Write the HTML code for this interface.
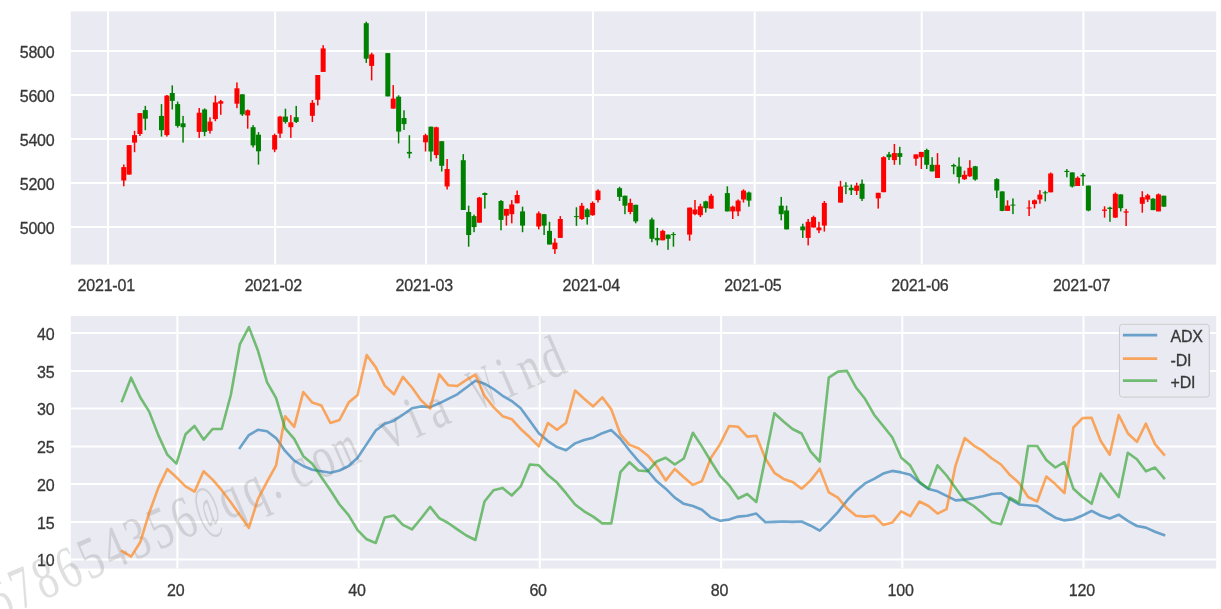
<!DOCTYPE html><html><head><meta charset="utf-8"><style>html,body{margin:0;padding:0;background:#fff;}svg{display:block;}text{font-family:"Liberation Sans",sans-serif;}text.t{stroke:#383838;stroke-width:0.3px;letter-spacing:-0.2px;}svg{will-change:transform;}text.wm{font-family:"Liberation Serif",serif;}</style></head><body>
<svg width="1221" height="609" viewBox="0 0 1221 609">
<rect x="0" y="0" width="1221" height="609" fill="#fff"/>
<rect x="70.8" y="11.4" width="1145.4" height="253.2" fill="#eaeaf2"/>
<path d="M70.8 227.1H1216.2M70.8 183.1H1216.2M70.8 139.1H1216.2M70.8 95.1H1216.2M70.8 51.1H1216.2M108.0 11.4V264.6M275.1 11.4V264.6M426.0 11.4V264.6M593.0 11.4V264.6M754.7 11.4V264.6M921.7 11.4V264.6M1083.4 11.4V264.6" stroke="#fff" stroke-width="2.0" fill="none"/>
<text x="54.5" y="233.9" font-size="16" fill="#383838" text-anchor="end" class="t">5000</text>
<text x="54.5" y="189.9" font-size="16" fill="#383838" text-anchor="end" class="t">5200</text>
<text x="54.5" y="145.9" font-size="16" fill="#383838" text-anchor="end" class="t">5400</text>
<text x="54.5" y="101.9" font-size="16" fill="#383838" text-anchor="end" class="t">5600</text>
<text x="54.5" y="57.9" font-size="16" fill="#383838" text-anchor="end" class="t">5800</text>
<text x="106.2" y="291" font-size="16" fill="#383838" text-anchor="middle" class="t">2021-01</text>
<text x="273.3" y="291" font-size="16" fill="#383838" text-anchor="middle" class="t">2021-02</text>
<text x="424.2" y="291" font-size="16" fill="#383838" text-anchor="middle" class="t">2021-03</text>
<text x="591.2" y="291" font-size="16" fill="#383838" text-anchor="middle" class="t">2021-04</text>
<text x="752.9" y="291" font-size="16" fill="#383838" text-anchor="middle" class="t">2021-05</text>
<text x="919.9" y="291" font-size="16" fill="#383838" text-anchor="middle" class="t">2021-06</text>
<text x="1081.6" y="291" font-size="16" fill="#383838" text-anchor="middle" class="t">2021-07</text>
<rect x="123.02" y="164.5" width="1.5" height="21.8" fill="#ff0000"/>
<rect x="121.27" y="167.1" width="5.0" height="13.4" fill="#ff0000"/>
<rect x="128.41" y="145.1" width="1.5" height="29.5" fill="#ff0000"/>
<rect x="126.66" y="145.1" width="5.0" height="29.5" fill="#ff0000"/>
<rect x="133.79" y="130.8" width="1.5" height="21.4" fill="#ff0000"/>
<rect x="132.04" y="135.1" width="5.0" height="7.5" fill="#ff0000"/>
<rect x="139.18" y="113.0" width="1.5" height="23.0" fill="#ff0000"/>
<rect x="137.43" y="113.1" width="5.0" height="20.9" fill="#ff0000"/>
<rect x="144.57" y="105.9" width="1.5" height="24.3" fill="#008000"/>
<rect x="142.82" y="110.1" width="5.0" height="8.6" fill="#008000"/>
<rect x="160.74" y="104.1" width="1.5" height="32.5" fill="#008000"/>
<rect x="158.99" y="115.9" width="5.0" height="14.3" fill="#008000"/>
<rect x="166.13" y="95.0" width="1.5" height="41.6" fill="#ff0000"/>
<rect x="164.38" y="95.6" width="5.0" height="39.5" fill="#ff0000"/>
<rect x="171.52" y="85.4" width="1.5" height="24.1" fill="#008000"/>
<rect x="169.77" y="93.0" width="5.0" height="7.9" fill="#008000"/>
<rect x="176.91" y="101.6" width="1.5" height="26.0" fill="#008000"/>
<rect x="175.16" y="104.1" width="5.0" height="21.8" fill="#008000"/>
<rect x="182.30" y="115.9" width="1.5" height="26.7" fill="#008000"/>
<rect x="180.55" y="123.3" width="5.0" height="3.9" fill="#008000"/>
<rect x="198.46" y="108.0" width="1.5" height="29.9" fill="#ff0000"/>
<rect x="196.71" y="112.7" width="5.0" height="19.2" fill="#ff0000"/>
<rect x="203.85" y="108.4" width="1.5" height="27.8" fill="#008000"/>
<rect x="202.10" y="109.5" width="5.0" height="22.4" fill="#008000"/>
<rect x="209.24" y="117.4" width="1.5" height="16.2" fill="#ff0000"/>
<rect x="207.49" y="121.6" width="5.0" height="9.2" fill="#ff0000"/>
<rect x="214.63" y="95.6" width="1.5" height="25.6" fill="#ff0000"/>
<rect x="212.88" y="102.4" width="5.0" height="16.7" fill="#ff0000"/>
<rect x="220.02" y="99.9" width="1.5" height="14.9" fill="#ff0000"/>
<rect x="218.27" y="101.2" width="5.0" height="2.5" fill="#ff0000"/>
<rect x="236.19" y="82.4" width="1.5" height="25.8" fill="#ff0000"/>
<rect x="234.44" y="88.3" width="5.0" height="15.4" fill="#ff0000"/>
<rect x="241.57" y="94.3" width="1.5" height="21.6" fill="#008000"/>
<rect x="239.82" y="94.3" width="5.0" height="20.1" fill="#008000"/>
<rect x="246.96" y="109.5" width="1.5" height="19.2" fill="#ff0000"/>
<rect x="245.21" y="110.3" width="5.0" height="5.2" fill="#ff0000"/>
<rect x="252.35" y="125.1" width="1.5" height="22.4" fill="#008000"/>
<rect x="250.60" y="127.2" width="5.0" height="18.2" fill="#008000"/>
<rect x="257.74" y="132.1" width="1.5" height="32.5" fill="#008000"/>
<rect x="255.99" y="134.7" width="5.0" height="16.6" fill="#008000"/>
<rect x="273.91" y="133.6" width="1.5" height="18.6" fill="#ff0000"/>
<rect x="272.16" y="135.1" width="5.0" height="14.5" fill="#ff0000"/>
<rect x="279.30" y="115.9" width="1.5" height="22.0" fill="#ff0000"/>
<rect x="277.55" y="116.6" width="5.0" height="17.0" fill="#ff0000"/>
<rect x="284.69" y="108.7" width="1.5" height="14.9" fill="#008000"/>
<rect x="282.94" y="116.6" width="5.0" height="5.3" fill="#008000"/>
<rect x="290.08" y="115.1" width="1.5" height="22.8" fill="#ff0000"/>
<rect x="288.33" y="122.3" width="5.0" height="4.9" fill="#ff0000"/>
<rect x="295.47" y="105.9" width="1.5" height="17.1" fill="#008000"/>
<rect x="293.72" y="117.2" width="5.0" height="4.7" fill="#008000"/>
<rect x="311.63" y="100.1" width="1.5" height="21.9" fill="#ff0000"/>
<rect x="309.88" y="102.8" width="5.0" height="13.0" fill="#ff0000"/>
<rect x="317.02" y="75.0" width="1.5" height="30.4" fill="#ff0000"/>
<rect x="315.27" y="75.0" width="5.0" height="24.8" fill="#ff0000"/>
<rect x="322.41" y="45.2" width="1.5" height="26.7" fill="#ff0000"/>
<rect x="320.66" y="48.4" width="5.0" height="23.5" fill="#ff0000"/>
<rect x="365.52" y="21.7" width="1.5" height="41.2" fill="#008000"/>
<rect x="363.77" y="23.2" width="5.0" height="35.5" fill="#008000"/>
<rect x="370.91" y="52.7" width="1.5" height="27.7" fill="#ff0000"/>
<rect x="369.16" y="54.4" width="5.0" height="11.5" fill="#ff0000"/>
<rect x="387.08" y="53.1" width="1.5" height="43.3" fill="#008000"/>
<rect x="385.33" y="53.1" width="5.0" height="43.3" fill="#008000"/>
<rect x="392.47" y="85.1" width="1.5" height="23.5" fill="#ff0000"/>
<rect x="390.72" y="98.6" width="5.0" height="10.0" fill="#ff0000"/>
<rect x="397.86" y="95.3" width="1.5" height="48.1" fill="#008000"/>
<rect x="396.11" y="96.7" width="5.0" height="34.9" fill="#008000"/>
<rect x="403.25" y="110.3" width="1.5" height="19.7" fill="#008000"/>
<rect x="401.50" y="118.0" width="5.0" height="6.1" fill="#008000"/>
<rect x="408.63" y="135.2" width="1.5" height="23.1" fill="#008000"/>
<rect x="406.88" y="151.9" width="5.0" height="1.7" fill="#008000"/>
<rect x="424.80" y="133.7" width="1.5" height="17.8" fill="#ff0000"/>
<rect x="423.05" y="135.2" width="5.0" height="7.1" fill="#ff0000"/>
<rect x="430.19" y="126.7" width="1.5" height="34.8" fill="#008000"/>
<rect x="428.44" y="126.7" width="5.0" height="24.8" fill="#008000"/>
<rect x="435.58" y="126.7" width="1.5" height="31.6" fill="#ff0000"/>
<rect x="433.83" y="127.3" width="5.0" height="27.8" fill="#ff0000"/>
<rect x="440.97" y="141.2" width="1.5" height="30.3" fill="#008000"/>
<rect x="439.22" y="141.2" width="5.0" height="24.6" fill="#008000"/>
<rect x="446.36" y="159.0" width="1.5" height="30.5" fill="#ff0000"/>
<rect x="444.61" y="169.0" width="5.0" height="17.5" fill="#ff0000"/>
<rect x="462.52" y="154.1" width="1.5" height="55.9" fill="#008000"/>
<rect x="460.77" y="160.2" width="5.0" height="49.8" fill="#008000"/>
<rect x="467.91" y="205.7" width="1.5" height="41.0" fill="#008000"/>
<rect x="466.16" y="212.0" width="5.0" height="23.0" fill="#008000"/>
<rect x="473.30" y="214.6" width="1.5" height="17.6" fill="#008000"/>
<rect x="471.55" y="216.1" width="5.0" height="11.0" fill="#008000"/>
<rect x="478.69" y="196.9" width="1.5" height="25.8" fill="#ff0000"/>
<rect x="476.94" y="197.6" width="5.0" height="25.1" fill="#ff0000"/>
<rect x="484.08" y="192.5" width="1.5" height="16.1" fill="#008000"/>
<rect x="482.33" y="193.1" width="5.0" height="1.9" fill="#008000"/>
<rect x="500.25" y="200.1" width="1.5" height="30.2" fill="#008000"/>
<rect x="498.50" y="201.0" width="5.0" height="18.9" fill="#008000"/>
<rect x="505.64" y="208.9" width="1.5" height="16.7" fill="#ff0000"/>
<rect x="503.89" y="208.9" width="5.0" height="6.8" fill="#ff0000"/>
<rect x="511.02" y="200.1" width="1.5" height="23.2" fill="#ff0000"/>
<rect x="509.27" y="204.4" width="5.0" height="9.8" fill="#ff0000"/>
<rect x="516.41" y="190.6" width="1.5" height="12.7" fill="#ff0000"/>
<rect x="514.66" y="195.0" width="5.0" height="8.3" fill="#ff0000"/>
<rect x="521.80" y="206.7" width="1.5" height="25.5" fill="#008000"/>
<rect x="520.05" y="211.4" width="5.0" height="14.2" fill="#008000"/>
<rect x="537.97" y="211.4" width="1.5" height="18.0" fill="#ff0000"/>
<rect x="536.22" y="213.3" width="5.0" height="13.2" fill="#ff0000"/>
<rect x="543.36" y="213.9" width="1.5" height="21.1" fill="#008000"/>
<rect x="541.61" y="214.2" width="5.0" height="11.4" fill="#008000"/>
<rect x="548.75" y="221.8" width="1.5" height="22.7" fill="#008000"/>
<rect x="547.00" y="230.9" width="5.0" height="13.6" fill="#008000"/>
<rect x="554.14" y="238.4" width="1.5" height="15.5" fill="#ff0000"/>
<rect x="552.39" y="242.6" width="5.0" height="6.6" fill="#ff0000"/>
<rect x="559.53" y="216.1" width="1.5" height="21.8" fill="#ff0000"/>
<rect x="557.78" y="219.0" width="5.0" height="18.9" fill="#ff0000"/>
<rect x="575.69" y="207.3" width="1.5" height="18.5" fill="#008000"/>
<rect x="573.94" y="216.1" width="5.0" height="1.0" fill="#008000"/>
<rect x="581.08" y="202.9" width="1.5" height="17.0" fill="#ff0000"/>
<rect x="579.33" y="205.7" width="5.0" height="13.3" fill="#ff0000"/>
<rect x="586.47" y="208.2" width="1.5" height="16.4" fill="#008000"/>
<rect x="584.72" y="209.5" width="5.0" height="7.6" fill="#008000"/>
<rect x="591.86" y="201.4" width="1.5" height="14.3" fill="#ff0000"/>
<rect x="590.11" y="202.9" width="5.0" height="12.3" fill="#ff0000"/>
<rect x="597.25" y="189.3" width="1.5" height="13.2" fill="#ff0000"/>
<rect x="595.50" y="190.6" width="5.0" height="9.5" fill="#ff0000"/>
<rect x="618.81" y="186.8" width="1.5" height="14.2" fill="#008000"/>
<rect x="617.06" y="188.2" width="5.0" height="8.7" fill="#008000"/>
<rect x="624.19" y="195.7" width="1.5" height="18.5" fill="#008000"/>
<rect x="622.44" y="195.7" width="5.0" height="10.0" fill="#008000"/>
<rect x="629.58" y="198.7" width="1.5" height="15.5" fill="#ff0000"/>
<rect x="627.83" y="202.9" width="5.0" height="9.1" fill="#ff0000"/>
<rect x="634.97" y="204.8" width="1.5" height="18.5" fill="#008000"/>
<rect x="633.22" y="204.8" width="5.0" height="16.6" fill="#008000"/>
<rect x="651.14" y="217.6" width="1.5" height="24.6" fill="#008000"/>
<rect x="649.39" y="219.5" width="5.0" height="19.3" fill="#008000"/>
<rect x="656.53" y="227.8" width="1.5" height="17.6" fill="#008000"/>
<rect x="654.78" y="237.9" width="5.0" height="2.4" fill="#008000"/>
<rect x="661.92" y="229.7" width="1.5" height="10.6" fill="#ff0000"/>
<rect x="660.17" y="230.9" width="5.0" height="9.4" fill="#ff0000"/>
<rect x="667.31" y="234.6" width="1.5" height="15.2" fill="#008000"/>
<rect x="665.56" y="234.6" width="5.0" height="4.2" fill="#008000"/>
<rect x="672.70" y="232.2" width="1.5" height="14.5" fill="#008000"/>
<rect x="670.95" y="234.1" width="5.0" height="1.0" fill="#008000"/>
<rect x="688.86" y="207.6" width="1.5" height="33.1" fill="#ff0000"/>
<rect x="687.11" y="207.6" width="5.0" height="27.0" fill="#ff0000"/>
<rect x="694.25" y="200.0" width="1.5" height="15.2" fill="#ff0000"/>
<rect x="692.50" y="209.5" width="5.0" height="4.7" fill="#ff0000"/>
<rect x="699.64" y="203.8" width="1.5" height="13.3" fill="#ff0000"/>
<rect x="697.89" y="206.3" width="5.0" height="8.9" fill="#ff0000"/>
<rect x="705.03" y="200.8" width="1.5" height="11.7" fill="#008000"/>
<rect x="703.28" y="201.4" width="5.0" height="6.8" fill="#008000"/>
<rect x="710.42" y="193.8" width="1.5" height="14.8" fill="#ff0000"/>
<rect x="708.67" y="195.7" width="5.0" height="12.9" fill="#ff0000"/>
<rect x="726.59" y="186.3" width="1.5" height="25.1" fill="#008000"/>
<rect x="724.84" y="193.1" width="5.0" height="18.3" fill="#008000"/>
<rect x="731.97" y="205.7" width="1.5" height="13.3" fill="#ff0000"/>
<rect x="730.22" y="206.7" width="5.0" height="4.7" fill="#ff0000"/>
<rect x="737.36" y="199.5" width="1.5" height="16.6" fill="#ff0000"/>
<rect x="735.61" y="200.6" width="5.0" height="10.8" fill="#ff0000"/>
<rect x="742.75" y="189.3" width="1.5" height="13.2" fill="#ff0000"/>
<rect x="741.00" y="190.6" width="5.0" height="8.9" fill="#ff0000"/>
<rect x="748.14" y="191.6" width="1.5" height="15.1" fill="#008000"/>
<rect x="746.39" y="192.5" width="5.0" height="8.1" fill="#008000"/>
<rect x="780.48" y="196.9" width="1.5" height="23.4" fill="#008000"/>
<rect x="778.73" y="205.7" width="5.0" height="8.5" fill="#008000"/>
<rect x="785.86" y="205.7" width="1.5" height="23.7" fill="#008000"/>
<rect x="784.11" y="210.5" width="5.0" height="18.9" fill="#008000"/>
<rect x="802.03" y="223.7" width="1.5" height="14.2" fill="#008000"/>
<rect x="800.28" y="226.5" width="5.0" height="3.8" fill="#008000"/>
<rect x="807.42" y="219.0" width="1.5" height="26.4" fill="#ff0000"/>
<rect x="805.67" y="221.8" width="5.0" height="16.1" fill="#ff0000"/>
<rect x="812.81" y="215.7" width="1.5" height="11.8" fill="#ff0000"/>
<rect x="811.06" y="217.1" width="5.0" height="10.4" fill="#ff0000"/>
<rect x="818.20" y="221.8" width="1.5" height="11.3" fill="#ff0000"/>
<rect x="816.45" y="227.5" width="5.0" height="2.8" fill="#ff0000"/>
<rect x="823.59" y="201.0" width="1.5" height="30.6" fill="#ff0000"/>
<rect x="821.84" y="202.9" width="5.0" height="22.7" fill="#ff0000"/>
<rect x="839.75" y="180.8" width="1.5" height="21.8" fill="#ff0000"/>
<rect x="838.00" y="186.5" width="5.0" height="16.1" fill="#ff0000"/>
<rect x="845.14" y="182.2" width="1.5" height="11.9" fill="#008000"/>
<rect x="843.39" y="185.6" width="5.0" height="1.0" fill="#008000"/>
<rect x="850.53" y="184.6" width="1.5" height="10.4" fill="#008000"/>
<rect x="848.78" y="187.8" width="5.0" height="2.5" fill="#008000"/>
<rect x="855.92" y="182.7" width="1.5" height="12.3" fill="#ff0000"/>
<rect x="854.17" y="185.6" width="5.0" height="5.3" fill="#ff0000"/>
<rect x="861.31" y="179.5" width="1.5" height="21.5" fill="#008000"/>
<rect x="859.56" y="183.7" width="5.0" height="15.1" fill="#008000"/>
<rect x="877.48" y="192.8" width="1.5" height="15.8" fill="#ff0000"/>
<rect x="875.73" y="192.8" width="5.0" height="5.6" fill="#ff0000"/>
<rect x="882.87" y="156.3" width="1.5" height="35.9" fill="#ff0000"/>
<rect x="881.12" y="157.2" width="5.0" height="35.0" fill="#ff0000"/>
<rect x="888.26" y="151.9" width="1.5" height="8.1" fill="#008000"/>
<rect x="886.51" y="154.4" width="5.0" height="2.8" fill="#008000"/>
<rect x="893.64" y="144.0" width="1.5" height="20.8" fill="#ff0000"/>
<rect x="891.89" y="153.1" width="5.0" height="7.0" fill="#ff0000"/>
<rect x="899.03" y="146.8" width="1.5" height="18.0" fill="#008000"/>
<rect x="897.28" y="153.1" width="5.0" height="3.8" fill="#008000"/>
<rect x="915.20" y="154.4" width="1.5" height="11.3" fill="#ff0000"/>
<rect x="913.45" y="154.4" width="5.0" height="4.3" fill="#ff0000"/>
<rect x="920.59" y="151.9" width="1.5" height="17.1" fill="#ff0000"/>
<rect x="918.84" y="151.9" width="5.0" height="5.3" fill="#ff0000"/>
<rect x="925.98" y="148.7" width="1.5" height="20.3" fill="#008000"/>
<rect x="924.23" y="150.0" width="5.0" height="14.8" fill="#008000"/>
<rect x="931.37" y="157.2" width="1.5" height="14.2" fill="#008000"/>
<rect x="929.62" y="164.8" width="5.0" height="6.6" fill="#008000"/>
<rect x="936.76" y="153.1" width="1.5" height="24.9" fill="#ff0000"/>
<rect x="935.01" y="164.8" width="5.0" height="13.2" fill="#ff0000"/>
<rect x="952.92" y="163.7" width="1.5" height="10.6" fill="#008000"/>
<rect x="951.17" y="165.0" width="5.0" height="1.5" fill="#008000"/>
<rect x="958.31" y="157.3" width="1.5" height="26.2" fill="#008000"/>
<rect x="956.56" y="166.5" width="5.0" height="10.6" fill="#008000"/>
<rect x="963.70" y="170.7" width="1.5" height="9.3" fill="#ff0000"/>
<rect x="961.95" y="174.8" width="5.0" height="4.4" fill="#ff0000"/>
<rect x="969.09" y="160.2" width="1.5" height="16.7" fill="#ff0000"/>
<rect x="967.34" y="167.8" width="5.0" height="8.5" fill="#ff0000"/>
<rect x="974.48" y="165.9" width="1.5" height="14.7" fill="#008000"/>
<rect x="972.73" y="166.3" width="5.0" height="13.2" fill="#008000"/>
<rect x="996.04" y="178.2" width="1.5" height="19.8" fill="#008000"/>
<rect x="994.29" y="179.1" width="5.0" height="11.4" fill="#008000"/>
<rect x="1001.42" y="191.4" width="1.5" height="19.8" fill="#008000"/>
<rect x="999.67" y="191.4" width="5.0" height="19.5" fill="#008000"/>
<rect x="1006.81" y="200.3" width="1.5" height="10.6" fill="#ff0000"/>
<rect x="1005.06" y="205.6" width="5.0" height="5.3" fill="#ff0000"/>
<rect x="1012.20" y="198.4" width="1.5" height="15.7" fill="#008000"/>
<rect x="1010.45" y="204.6" width="5.0" height="1.0" fill="#008000"/>
<rect x="1028.37" y="200.3" width="1.5" height="15.7" fill="#ff0000"/>
<rect x="1026.62" y="207.5" width="5.0" height="1.0" fill="#ff0000"/>
<rect x="1033.76" y="199.5" width="1.5" height="8.9" fill="#ff0000"/>
<rect x="1032.01" y="200.3" width="5.0" height="3.8" fill="#ff0000"/>
<rect x="1039.15" y="190.1" width="1.5" height="13.6" fill="#ff0000"/>
<rect x="1037.40" y="194.6" width="5.0" height="4.9" fill="#ff0000"/>
<rect x="1044.54" y="190.8" width="1.5" height="10.6" fill="#008000"/>
<rect x="1042.79" y="192.3" width="5.0" height="1.0" fill="#008000"/>
<rect x="1049.92" y="172.5" width="1.5" height="19.8" fill="#ff0000"/>
<rect x="1048.17" y="173.5" width="5.0" height="18.8" fill="#ff0000"/>
<rect x="1066.09" y="169.1" width="1.5" height="8.2" fill="#008000"/>
<rect x="1064.34" y="170.9" width="5.0" height="1.1" fill="#008000"/>
<rect x="1071.48" y="172.4" width="1.5" height="15.1" fill="#008000"/>
<rect x="1069.73" y="172.4" width="5.0" height="14.1" fill="#008000"/>
<rect x="1076.87" y="176.4" width="1.5" height="9.6" fill="#ff0000"/>
<rect x="1075.12" y="177.8" width="5.0" height="8.2" fill="#ff0000"/>
<rect x="1082.26" y="172.9" width="1.5" height="12.9" fill="#008000"/>
<rect x="1080.51" y="174.8" width="5.0" height="1.6" fill="#008000"/>
<rect x="1087.65" y="185.6" width="1.5" height="25.7" fill="#008000"/>
<rect x="1085.90" y="185.6" width="5.0" height="24.9" fill="#008000"/>
<rect x="1103.82" y="206.3" width="1.5" height="11.3" fill="#ff0000"/>
<rect x="1102.07" y="209.5" width="5.0" height="1.3" fill="#ff0000"/>
<rect x="1109.20" y="206.7" width="1.5" height="15.1" fill="#008000"/>
<rect x="1107.45" y="207.6" width="5.0" height="1.4" fill="#008000"/>
<rect x="1114.59" y="192.5" width="1.5" height="25.5" fill="#ff0000"/>
<rect x="1112.84" y="193.8" width="5.0" height="23.8" fill="#ff0000"/>
<rect x="1119.98" y="194.4" width="1.5" height="17.0" fill="#008000"/>
<rect x="1118.23" y="194.4" width="5.0" height="13.8" fill="#008000"/>
<rect x="1125.37" y="208.9" width="1.5" height="17.1" fill="#ff0000"/>
<rect x="1123.62" y="211.4" width="5.0" height="1.3" fill="#ff0000"/>
<rect x="1141.54" y="191.2" width="1.5" height="21.5" fill="#ff0000"/>
<rect x="1139.79" y="197.2" width="5.0" height="6.6" fill="#ff0000"/>
<rect x="1146.93" y="193.8" width="1.5" height="8.2" fill="#ff0000"/>
<rect x="1145.18" y="195.3" width="5.0" height="4.2" fill="#ff0000"/>
<rect x="1152.32" y="198.2" width="1.5" height="11.9" fill="#008000"/>
<rect x="1150.57" y="198.7" width="5.0" height="11.4" fill="#008000"/>
<rect x="1157.70" y="193.5" width="1.5" height="17.9" fill="#ff0000"/>
<rect x="1155.95" y="194.4" width="5.0" height="17.0" fill="#ff0000"/>
<rect x="1163.09" y="195.7" width="1.5" height="11.0" fill="#008000"/>
<rect x="1161.34" y="195.7" width="5.0" height="11.0" fill="#008000"/>
<rect x="70.8" y="316.0" width="1145.4" height="252.6" fill="#eaeaf2"/>
<path d="M70.8 559.6H1216.2M70.8 521.9H1216.2M70.8 484.1H1216.2M70.8 446.4H1216.2M70.8 408.6H1216.2M70.8 370.9H1216.2M70.8 333.1H1216.2M177.4 316.0V568.6M358.6 316.0V568.6M539.8 316.0V568.6M721.1 316.0V568.6M902.3 316.0V568.6M1083.5 316.0V568.6" stroke="#fff" stroke-width="2.0" fill="none"/>
<text x="54.5" y="566.4" font-size="16" fill="#383838" text-anchor="end" class="t">10</text>
<text x="54.5" y="528.7" font-size="16" fill="#383838" text-anchor="end" class="t">15</text>
<text x="54.5" y="490.9" font-size="16" fill="#383838" text-anchor="end" class="t">20</text>
<text x="54.5" y="453.2" font-size="16" fill="#383838" text-anchor="end" class="t">25</text>
<text x="54.5" y="415.4" font-size="16" fill="#383838" text-anchor="end" class="t">30</text>
<text x="54.5" y="377.7" font-size="16" fill="#383838" text-anchor="end" class="t">35</text>
<text x="54.5" y="339.9" font-size="16" fill="#383838" text-anchor="end" class="t">40</text>
<text x="175.7" y="595.5" font-size="16" fill="#383838" text-anchor="middle" class="t">20</text>
<text x="356.9" y="595.5" font-size="16" fill="#383838" text-anchor="middle" class="t">40</text>
<text x="538.1" y="595.5" font-size="16" fill="#383838" text-anchor="middle" class="t">60</text>
<text x="719.4" y="595.5" font-size="16" fill="#383838" text-anchor="middle" class="t">80</text>
<text x="900.6" y="595.5" font-size="16" fill="#383838" text-anchor="middle" class="t">100</text>
<text x="1081.8" y="595.5" font-size="16" fill="#383838" text-anchor="middle" class="t">120</text>
<g transform="translate(7.0,616.0) rotate(-23.5)" fill="rgba(110,110,110,0.21)" font-size="50"><text transform="translate(0.0,0) scale(0.850,1.2)" x="0" y="0" text-anchor="middle" class="wm">6</text><text transform="translate(25.1,0) scale(0.850,1.2)" x="0" y="0" text-anchor="middle" class="wm">7</text><text transform="translate(50.2,0) scale(0.850,1.2)" x="0" y="0" text-anchor="middle" class="wm">8</text><text transform="translate(75.3,0) scale(0.850,1.2)" x="0" y="0" text-anchor="middle" class="wm">6</text><text transform="translate(100.4,0) scale(0.850,1.2)" x="0" y="0" text-anchor="middle" class="wm">5</text><text transform="translate(125.5,0) scale(0.850,1.2)" x="0" y="0" text-anchor="middle" class="wm">4</text><text transform="translate(150.6,0) scale(0.850,1.2)" x="0" y="0" text-anchor="middle" class="wm">3</text><text transform="translate(175.7,0) scale(0.850,1.2)" x="0" y="0" text-anchor="middle" class="wm">5</text><text transform="translate(200.8,0) scale(0.850,1.2)" x="0" y="0" text-anchor="middle" class="wm">6</text><text transform="translate(225.9,0) scale(0.508,1.2)" x="0" y="0" text-anchor="middle" class="wm">&#64;</text><text transform="translate(251.0,0) scale(0.850,1.2)" x="0" y="0" text-anchor="middle" class="wm">q</text><text transform="translate(276.1,0) scale(0.850,1.2)" x="0" y="0" text-anchor="middle" class="wm">q</text><text transform="translate(297.2,0) scale(0.850,1.2)" x="0" y="0" text-anchor="middle" class="wm">.</text><text transform="translate(326.3,0) scale(0.850,1.2)" x="0" y="0" text-anchor="middle" class="wm">c</text><text transform="translate(351.4,0) scale(0.850,1.2)" x="0" y="0" text-anchor="middle" class="wm">o</text><text transform="translate(376.5,0) scale(0.601,1.2)" x="0" y="0" text-anchor="middle" class="wm">m</text><text transform="translate(426.7,0) scale(0.850,1.2)" x="0" y="0" text-anchor="middle" class="wm">v</text><text transform="translate(451.8,0) scale(0.850,1.2)" x="0" y="0" text-anchor="middle" class="wm">i</text><text transform="translate(476.9,0) scale(0.850,1.2)" x="0" y="0" text-anchor="middle" class="wm">a</text><text transform="translate(527.1,0) scale(0.495,1.2)" x="0" y="0" text-anchor="middle" class="wm">W</text><text transform="translate(552.2,0) scale(0.850,1.2)" x="0" y="0" text-anchor="middle" class="wm">i</text><text transform="translate(577.3,0) scale(0.850,1.2)" x="0" y="0" text-anchor="middle" class="wm">n</text><text transform="translate(602.4,0) scale(0.850,1.2)" x="0" y="0" text-anchor="middle" class="wm">d</text></g>
<path d="M239.8 447.9 L248.9 435.1 L257.9 429.8 L267.0 431.3 L276.1 438.1 L285.1 450.9 L294.2 460.7 L303.3 466.0 L312.3 469.8 L321.4 471.3 L330.4 472.8 L339.5 470.5 L348.6 466.0 L357.6 457.7 L366.7 444.1 L375.7 430.5 L384.8 423.7 L393.9 420.7 L402.9 414.7 L412.0 408.3 L421.0 406.4 L430.1 407.1 L439.2 403.3 L448.2 398.8 L457.3 394.3 L466.4 387.5 L475.4 380.7 L484.5 383.7 L493.5 389.0 L502.6 395.8 L511.7 401.1 L520.7 408.3 L529.8 420.7 L538.8 433.2 L547.9 441.1 L557.0 447.1 L566.0 450.2 L575.1 443.4 L584.1 440.0 L593.2 437.7 L602.3 433.2 L611.3 430.1 L620.4 438.8 L629.5 450.5 L638.5 461.1 L647.6 470.5 L656.6 481.1 L665.7 488.7 L674.8 497.7 L683.8 503.8 L692.9 506.0 L701.9 509.8 L711.0 517.4 L720.1 520.8 L729.1 519.6 L738.2 516.6 L747.2 515.8 L756.3 513.6 L765.4 522.3 L774.4 521.9 L783.5 521.5 L792.5 521.9 L801.6 521.5 L810.7 525.7 L819.7 530.6 L828.8 521.9 L837.9 512.1 L846.9 500.7 L856.0 490.9 L865.0 483.4 L874.1 478.9 L883.2 473.6 L892.2 470.9 L901.3 472.4 L910.3 474.7 L919.4 482.6 L928.5 489.0 L937.5 491.3 L946.6 495.8 L955.6 500.4 L964.7 499.6 L973.8 498.1 L982.8 496.2 L991.9 494.0 L1001.0 493.2 L1010.0 499.2 L1019.1 504.5 L1028.1 505.3 L1037.2 506.0 L1046.3 512.1 L1055.3 517.7 L1064.4 520.4 L1073.4 519.2 L1082.5 515.5 L1091.6 510.9 L1100.6 515.5 L1109.7 518.5 L1118.7 514.7 L1127.8 520.8 L1136.9 526.0 L1145.9 527.6 L1155.0 531.7 L1164.0 535.1" stroke="rgba(31,119,180,0.64)" stroke-width="2.6" fill="none" stroke-linejoin="round" stroke-linecap="square"/>
<path d="M122.0 551.0 L131.1 556.6 L140.2 542.3 L149.2 512.8 L158.3 487.9 L167.3 469.0 L176.4 477.3 L185.5 486.4 L194.5 491.7 L203.6 471.3 L212.6 479.6 L221.7 490.2 L230.8 502.3 L239.8 515.1 L248.9 527.9 L257.9 499.2 L267.0 481.9 L276.1 465.3 L285.1 416.2 L294.2 426.8 L303.3 392.0 L312.3 402.6 L321.4 405.6 L330.4 423.0 L339.5 420.0 L348.6 402.6 L357.6 395.0 L366.7 355.0 L375.7 367.1 L384.8 385.6 L393.9 394.3 L402.9 376.9 L412.0 387.5 L421.0 400.3 L430.1 408.6 L439.2 374.3 L448.2 385.2 L457.3 386.0 L466.4 379.9 L475.4 374.7 L484.5 395.8 L493.5 407.1 L502.6 416.2 L511.7 419.2 L520.7 429.0 L529.8 437.3 L538.8 446.4 L547.9 423.0 L557.0 429.8 L566.0 423.0 L575.1 390.5 L584.1 398.8 L593.2 406.4 L602.3 397.3 L611.3 409.4 L620.4 434.3 L629.5 444.9 L638.5 448.3 L647.6 455.4 L656.6 466.0 L665.7 480.4 L674.8 469.0 L683.8 477.3 L692.9 484.9 L701.9 481.1 L711.0 457.7 L720.1 444.1 L729.1 426.0 L738.2 426.8 L747.2 436.6 L756.3 435.8 L765.4 458.5 L774.4 472.8 L783.5 478.9 L792.5 481.9 L801.6 488.7 L810.7 480.4 L819.7 468.7 L828.8 492.4 L837.9 497.7 L846.9 508.3 L856.0 515.8 L865.0 516.6 L874.1 515.8 L883.2 524.9 L892.2 522.6 L901.3 511.3 L910.3 516.2 L919.4 501.5 L928.5 506.0 L937.5 513.6 L946.6 509.1 L955.6 465.3 L964.7 438.1 L973.8 445.6 L982.8 450.9 L991.9 458.5 L1001.0 464.5 L1010.0 475.1 L1019.1 483.0 L1028.1 497.0 L1037.2 501.5 L1046.3 476.6 L1055.3 484.1 L1064.4 493.2 L1073.4 427.5 L1082.5 418.1 L1091.6 417.7 L1100.6 440.7 L1109.7 454.7 L1118.7 415.0 L1127.8 433.2 L1136.9 441.9 L1145.9 423.7 L1155.0 444.1 L1164.0 454.7" stroke="rgba(255,127,14,0.66)" stroke-width="2.6" fill="none" stroke-linejoin="round" stroke-linecap="square"/>
<path d="M122.0 401.1 L131.1 377.7 L140.2 397.3 L149.2 411.6 L158.3 435.1 L167.3 454.7 L176.4 463.7 L185.5 434.3 L194.5 426.0 L203.6 439.6 L212.6 429.0 L221.7 429.0 L230.8 395.0 L239.8 344.4 L248.9 327.1 L257.9 350.5 L267.0 382.2 L276.1 398.1 L285.1 428.3 L294.2 438.8 L303.3 456.2 L312.3 463.7 L321.4 477.3 L330.4 490.2 L339.5 504.5 L348.6 515.1 L357.6 530.2 L366.7 539.3 L375.7 543.0 L384.8 517.4 L393.9 515.5 L402.9 524.9 L412.0 529.4 L421.0 518.5 L430.1 506.8 L439.2 518.1 L448.2 523.0 L457.3 529.4 L466.4 535.5 L475.4 540.0 L484.5 501.5 L493.5 490.2 L502.6 487.9 L511.7 495.5 L520.7 486.4 L529.8 464.5 L538.8 465.3 L547.9 475.1 L557.0 482.6 L566.0 493.2 L575.1 504.5 L584.1 511.3 L593.2 516.6 L602.3 523.4 L611.3 523.4 L620.4 472.1 L629.5 462.2 L638.5 470.5 L647.6 471.3 L656.6 461.5 L665.7 457.7 L674.8 464.5 L683.8 458.5 L692.9 432.8 L701.9 446.4 L711.0 461.5 L720.1 475.8 L729.1 485.3 L738.2 498.5 L747.2 494.0 L756.3 501.9 L765.4 457.7 L774.4 413.2 L783.5 421.5 L792.5 429.0 L801.6 433.5 L810.7 451.7 L819.7 461.5 L828.8 377.7 L837.9 371.6 L846.9 370.9 L856.0 387.5 L865.0 398.8 L874.1 414.7 L883.2 426.0 L892.2 437.3 L901.3 457.7 L910.3 465.6 L919.4 481.9 L928.5 488.7 L937.5 465.3 L946.6 475.5 L955.6 487.9 L964.7 500.4 L973.8 506.0 L982.8 513.6 L991.9 521.9 L1001.0 524.2 L1010.0 497.7 L1019.1 503.0 L1028.1 446.0 L1037.2 446.0 L1046.3 460.0 L1055.3 467.5 L1064.4 462.2 L1073.4 488.7 L1082.5 497.0 L1091.6 503.8 L1100.6 473.6 L1109.7 485.3 L1118.7 497.0 L1127.8 452.8 L1136.9 459.2 L1145.9 471.3 L1155.0 467.5 L1164.0 478.1" stroke="rgba(44,160,44,0.64)" stroke-width="2.6" fill="none" stroke-linejoin="round" stroke-linecap="square"/>
<rect x="1119.5" y="324.3" width="89.8" height="72.8" rx="3" ry="3" fill="#eaeaf2" stroke="#cccccc" stroke-width="1"/>
<path d="M1122.9 335.1H1157.2" stroke="rgba(31,119,180,0.64)" stroke-width="2.6"/>
<text x="1170.5" y="342.2" font-size="16" fill="#383838" class="t">ADX</text>
<path d="M1122.9 358.6H1157.2" stroke="rgba(255,127,14,0.66)" stroke-width="2.6"/>
<text x="1170.5" y="365.7" font-size="16" fill="#383838" class="t">-DI</text>
<path d="M1122.9 380.6H1157.2" stroke="rgba(44,160,44,0.64)" stroke-width="2.6"/>
<text x="1170.5" y="387.7" font-size="16" fill="#383838" class="t">+DI</text>
</svg></body></html>
